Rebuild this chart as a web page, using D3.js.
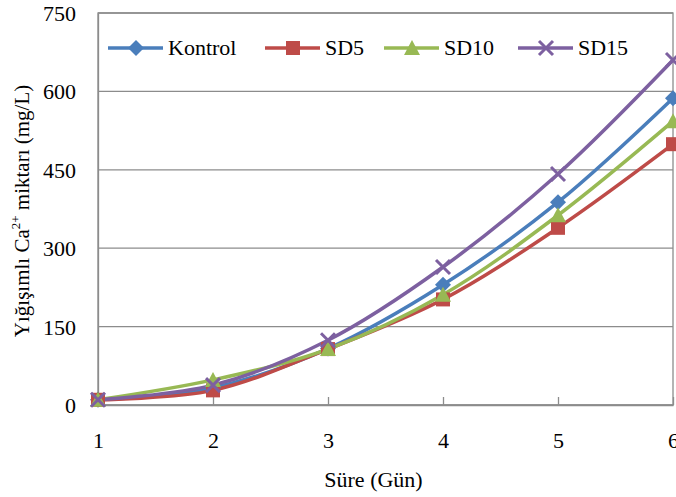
<!DOCTYPE html>
<html>
<head>
<meta charset="utf-8">
<script src="https://cdn.jsdelivr.net/npm/d3@7"></script>
<style>
  html, body { margin: 0; padding: 0; background: #fff; }
  svg text { font-family: "Liberation Serif", "DejaVu Serif", serif; fill: #000; }
</style>
</head>
<body>
<svg id="chart" width="676" height="497"></svg>
<script>
const days = [1, 2, 3, 4, 5, 6]
const kontrol = [10, 33, 108, 230, 388, 587]
const sd5 = [10, 28, 107, 202, 339, 499]
const sd10 = [10, 48, 107, 211, 363, 543]
const sd15 = [10, 38, 124, 264, 442, 660]
const yTicks = [0, 150, 300, 450, 600, 750]
const seriesNames = ['Kontrol', 'SD5', 'SD10', 'SD15']

const series = [
  { name: seriesNames[0], values: kontrol, color: '#4a7ebb', marker: 'diamond' },
  { name: seriesNames[1], values: sd5, color: '#be4b48', marker: 'square' },
  { name: seriesNames[2], values: sd10, color: '#98b954', marker: 'triangle' },
  { name: seriesNames[3], values: sd15, color: '#7d60a0', marker: 'cross' }
]

const margin = { top: 13, right: 3, bottom: 92, left: 98 }
const svg = d3.select('#chart')
const width = +svg.attr('width') - margin.left - margin.right
const height = +svg.attr('height') - margin.top - margin.bottom

const x = d3.scaleLinear().domain([1, 6]).range([0, width])
const y = d3.scaleLinear().domain([0, 750]).range([height, 0])

const g = svg.append('g').attr('transform', `translate(${margin.left},${margin.top})`)

// gridlines
g.append('g')
  .selectAll('line')
  .data(yTicks)
  .enter()
  .append('line')
  .attr('x1', 0)
  .attr('x2', width)
  .attr('y1', (d) => y(d))
  .attr('y2', (d) => y(d))
  .attr('stroke', '#8c8c8c')
  .attr('stroke-width', 1.3)

// plot frame
g.append('rect')
  .attr('width', width)
  .attr('height', height)
  .attr('fill', 'none')
  .attr('stroke', '#8c8c8c')
  .attr('stroke-width', 1.3)

// x axis with inner ticks
const xAxis = g.append('g')
  .attr('transform', `translate(0,${height})`)
  .call(d3.axisBottom(x).tickValues(days).tickFormat(d3.format('d')).tickSizeInner(-8).tickSizeOuter(0).tickPadding(27))
xAxis.select('.domain').attr('stroke', '#8c8c8c').attr('stroke-width', 1.3)
xAxis.selectAll('.tick line').attr('stroke', '#8c8c8c').attr('stroke-width', 1.3)
xAxis.selectAll('.tick text').attr('font-size', 22).attr('font-family', null)

const yAxis = g.append('g')
  .call(d3.axisLeft(y).tickValues(yTicks).tickSize(0).tickPadding(22))
yAxis.select('.domain').attr('stroke', '#8c8c8c').attr('stroke-width', 1.3)
yAxis.selectAll('.tick text').attr('font-size', 22).attr('font-family', null).attr('dy', '0.34em')

// axis titles
svg.append('text')
  .attr('x', margin.left + width / 2 - 12)
  .attr('y', 487)
  .attr('text-anchor', 'middle')
  .attr('font-size', 22)
  .text('Süre (Gün)')

const yTitle = svg.append('text')
  .attr('transform', 'translate(29,211) rotate(-90)')
  .attr('text-anchor', 'middle')
  .attr('font-size', 21)
yTitle.append('tspan').text('Yığışımlı Ca')
yTitle.append('tspan').attr('font-size', 13).attr('dy', -9).text('2+')
yTitle.append('tspan').attr('dy', 9).text(' miktarı (mg/L)')

// marker shapes
function drawMarker(sel, type, color) {
  if (type === 'diamond') {
    sel.append('path').attr('d', 'M0,-8L8,0L0,8L-8,0Z').attr('fill', color)
  } else if (type === 'square') {
    sel.append('rect').attr('x', -7).attr('y', -7).attr('width', 14).attr('height', 14).attr('fill', color)
  } else if (type === 'triangle') {
    sel.append('path').attr('d', 'M0,-8L8,7L-8,7Z').attr('fill', color)
  } else {
    sel.append('path').attr('d', 'M-7,-7L7,7M-7,7L7,-7').attr('stroke', color).attr('stroke-width', 3).attr('fill', 'none')
  }
}

const line = d3.line()
  .x((d, i) => x(days[i]))
  .y((d) => y(d))
  .curve(d3.curveCatmullRom.alpha(0.5))

series.forEach((s) => {
  g.append('path')
    .datum(s.values)
    .attr('d', line)
    .attr('fill', 'none')
    .attr('stroke', s.color)
    .attr('stroke-width', 3.5)
})

series.forEach((s) => {
  g.append('g')
    .selectAll('g')
    .data(s.values)
    .enter()
    .append('g')
    .attr('transform', (d, i) => `translate(${x(days[i])},${y(d)})`)
    .each(function () { drawMarker(d3.select(this), s.marker, s.color) })
})

// legend
const legendX = [108, 265, 384, 518]
const legend = svg.append('g').attr('transform', 'translate(0,48)')
series.forEach((s, i) => {
  const item = legend.append('g').attr('transform', `translate(${legendX[i]},0)`)
  item.append('line').attr('x1', 0).attr('x2', 55).attr('stroke', s.color).attr('stroke-width', 3.5)
  drawMarker(item.append('g').attr('transform', 'translate(28,0)'), s.marker, s.color)
  item.append('text').attr('x', 60).attr('dy', '0.34em').attr('font-size', 22).text(s.name)
})
</script>
</body>
</html>
